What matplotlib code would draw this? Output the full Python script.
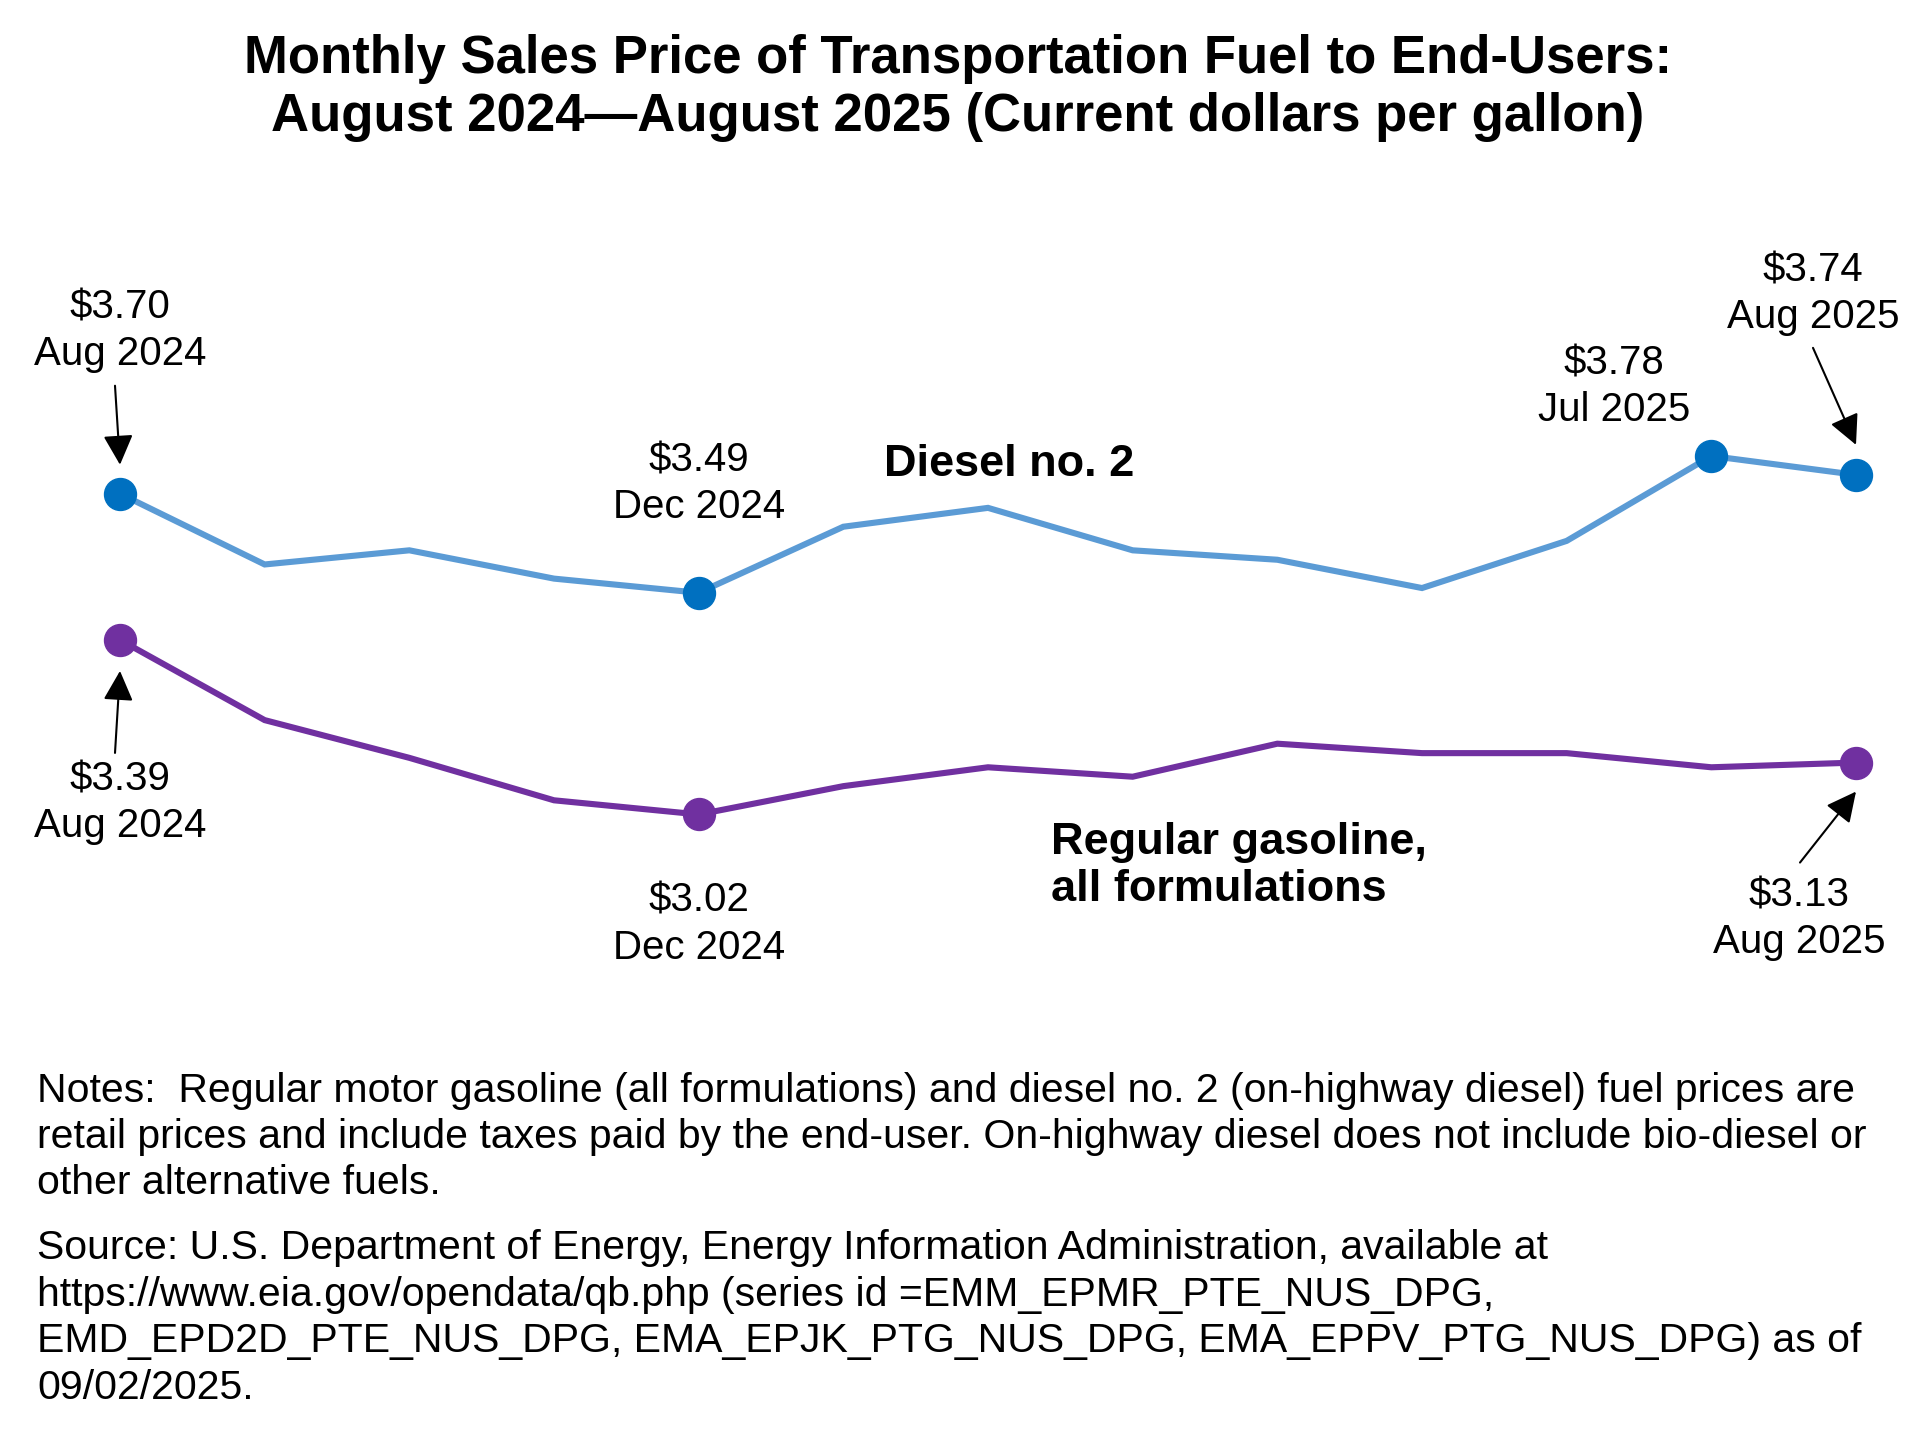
import matplotlib
matplotlib.use("Agg")
import matplotlib.pyplot as plt
from matplotlib.transforms import offset_copy

plt.rcParams['font.family'] = ['Liberation Sans', 'DejaVu Sans']

# ---- data (dollars per gallon) ----
months = ["Aug 2024", "Sep 2024", "Oct 2024", "Nov 2024", "Dec 2024", "Jan 2025",
          "Feb 2025", "Mar 2025", "Apr 2025", "May 2025", "Jun 2025", "Jul 2025", "Aug 2025"]
diesel = [3.70, 3.55, 3.58, 3.52, 3.49, 3.63, 3.67, 3.58, 3.56, 3.50, 3.60, 3.78, 3.74]
gasoline = [3.39, 3.22, 3.14, 3.05, 3.02, 3.08, 3.12, 3.10, 3.17, 3.15, 3.15, 3.12, 3.13]

# points that get a marker + label
diesel_marked = [0, 4, 11, 12]
gas_marked = [0, 4, 12]

TITLE = ("Monthly Sales Price of Transportation Fuel to End-Users:\n"
         "August 2024\u2014August 2025 (Current dollars per gallon)")
NOTES = ("Notes:  Regular motor gasoline (all formulations) and diesel no. 2 (on-highway diesel) fuel prices are\n"
         "retail prices and include taxes paid by the end-user. On-highway diesel does not include bio-diesel or\n"
         "other alternative fuels.")
SOURCE = ("Source: U.S. Department of Energy, Energy Information Administration, available at\n"
          "https://www.eia.gov/opendata/qb.php (series id =EMM_EPMR_PTE_NUS_DPG,\n"
          "EMD_EPD2D_PTE_NUS_DPG, EMA_EPJK_PTG_NUS_DPG, EMA_EPPV_PTG_NUS_DPG) as of\n"
          "09/02/2025.")

DIESEL_LINE = "#5B9BD5"
DIESEL_DOT = "#0070C0"
GAS = "#7030A0"

W, H = 1916, 1446
fig = plt.figure(figsize=(W / 100, H / 100), dpi=100)


def fx(px):
    return px / W


def fy(py):
    return 1 - py / H


ax = fig.add_axes([fx(120), 0.365, fx(1856) - fx(120), 0.3588])
x = list(range(len(months)))
ax.plot(x, diesel, color=DIESEL_LINE, lw=4.4, solid_joinstyle="miter", zorder=2, clip_on=False)
ax.plot(x, gasoline, color=GAS, lw=4.4, solid_joinstyle="miter", zorder=2, clip_on=False)
ax.plot([x[i] for i in diesel_marked], [diesel[i] for i in diesel_marked], "o",
        color=DIESEL_DOT, ms=23, zorder=3, clip_on=False)
ax.plot([x[i] for i in gas_marked], [gasoline[i] for i in gas_marked], "o",
        color=GAS, ms=23, zorder=3, clip_on=False)
ax.set_xlim(0, 12)
ax.set_ylim(2.8, 3.9)
ax.axis("off")

LABEL_FS = 29


def label(i, vals, dx, dy, arrow=None):
    """text block centred (dx, dy) pixels from the point.
    arrow = (start_dx, start_dy, tip_dx, tip_dy), also pixels from the point"""
    txt = f"${vals[i]:.2f}\n{months[i]}"
    ax.annotate(txt, xy=(x[i], vals[i]), xytext=(dx, dy), textcoords="offset pixels",
                ha="center", va="center", fontsize=LABEL_FS, linespacing=1.3,
                annotation_clip=False)
    if arrow:
        sx, sy, tx, ty = arrow
        tip = offset_copy(ax.transData, fig=fig, x=tx, y=ty, units="dots")
        ax.annotate("", xy=(x[i], vals[i]), xycoords=tip,
                    xytext=(sx - tx, sy - ty), textcoords="offset pixels",
                    arrowprops=dict(arrowstyle="-|>", color="black", lw=1.5,
                                    mutation_scale=46, shrinkA=0, shrinkB=0),
                    annotation_clip=False)


label(0, diesel, 0, 163, arrow=(-5, 108, 0, 29))
label(4, diesel, 0, 109)
label(11, diesel, -97, 69)
label(12, diesel, -43, 181, arrow=(-43, 127, 0, 30))
label(0, gasoline, 0, -163, arrow=(-5, -113, 0, -31))
label(4, gasoline, 0, -110)
label(12, gasoline, -57, -156, arrow=(-56, -100, 0, -29))

fig.text(fx(1009), fy(464), "Diesel no. 2", ha="center", va="center",
         fontsize=32.5, fontweight="bold")
fig.text(fx(1051), fy(866), "Regular gasoline,\nall formulations", ha="left", va="center",
         fontsize=32.5, fontweight="bold", linespacing=1.2)

fig.text(0.5, fy(88), TITLE, ha="center", va="center", fontsize=38,
         fontweight="bold", linespacing=1.22)

fig.text(fx(37), fy(1137), NOTES, ha="left", va="center", fontsize=29.5, linespacing=1.28)
fig.text(fx(37), fy(1318), SOURCE, ha="left", va="center", fontsize=29.5, linespacing=1.28)

fig.savefig("out.png", dpi=100, facecolor="white")
